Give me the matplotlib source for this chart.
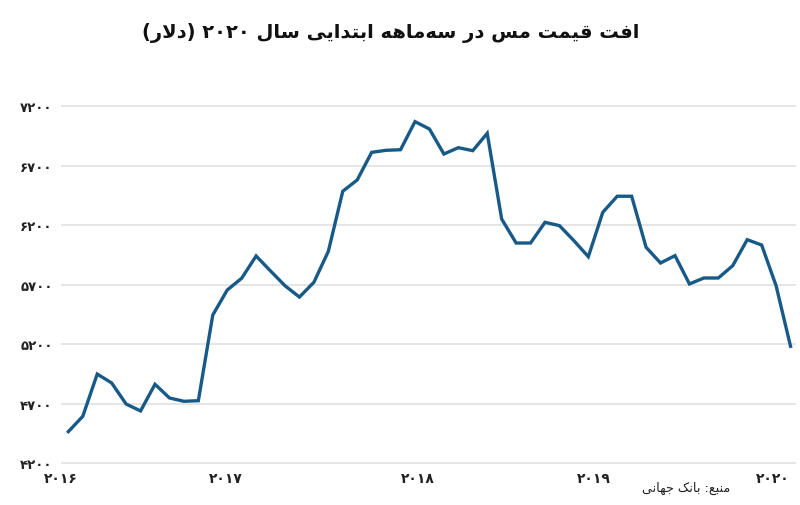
import matplotlib
matplotlib.use("Agg")
import matplotlib.pyplot as plt
import numpy as np

# ---------------- data ----------------
prices = [4466, 4595, 4950, 4875, 4698, 4640, 4864, 4749, 4721, 4726,
          5446, 5656, 5755, 5942, 5816, 5692, 5597, 5721, 5981, 6486,
          6581, 6813, 6830, 6835, 7071, 7009, 6799, 6852, 6827, 6973,
          6253, 6051, 6051, 6225, 6197, 6071, 5936, 6309, 6444, 6444,
          6015, 5883, 5945, 5707, 5757, 5757, 5861, 6079, 6034, 5692,
          5183]
year_labels = ["2016", "2017", "2018", "2019", "2020"]
year_pos = [-0.5, 10.9, 24.2, 36.4, 48.8]
y_ticks = [4200, 4700, 5200, 5700, 6200, 6700, 7200]
title_text = "افت قیمت مس در سه\u200cماهه ابتدایی سال ۲۰۲۰ (دلار)"
source_text = "منبع: بانک جهانی"

# ---------------- minimal Persian shaping ----------------
FORMS = {
    'ا': ('\uFE8D', '\uFE8E', None, None),
    'ب': ('\uFE8F', '\uFE90', '\uFE91', '\uFE92'),
    'ت': ('\uFE95', '\uFE96', '\uFE97', '\uFE98'),
    'ج': ('\uFE9D', '\uFE9E', '\uFE9F', '\uFEA0'),
    'د': ('\uFEA9', '\uFEAA', None, None),
    'ر': ('\uFEAD', '\uFEAE', None, None),
    'س': ('\uFEB1', '\uFEB2', '\uFEB3', '\uFEB4'),
    'ع': ('\uFEC9', '\uFECA', '\uFECB', '\uFECC'),
    'ف': ('\uFED1', '\uFED2', '\uFED3', '\uFED4'),
    'ق': ('\uFED5', '\uFED6', '\uFED7', '\uFED8'),
    'ل': ('\uFEDD', '\uFEDE', '\uFEDF', '\uFEE0'),
    'م': ('\uFEE1', '\uFEE2', '\uFEE3', '\uFEE4'),
    'ن': ('\uFEE5', '\uFEE6', '\uFEE7', '\uFEE8'),
    'ه': ('\uFEE9', '\uFEEA', '\uFEEB', '\uFEEC'),
    'ی': ('\uFBFC', '\uFBFD', '\uFBFE', '\uFBFF'),
    'ک': ('\uFB8E', '\uFB8F', '\uFB90', '\uFB91'),
    'LA': ('\uFEFB', '\uFEFC', None, None),
}


def shape(text):
    units = []
    i = 0
    while i < len(text):
        if text[i] == 'ل' and i + 1 < len(text) and text[i + 1] == 'ا':
            units.append('LA')
            i += 2
        else:
            units.append(text[i])
            i += 1
    out = []
    for k, u in enumerate(units):
        if u not in FORMS:
            out.append(u if u != '\u200c' else '')
            continue
        f = FORMS[u]
        prev = units[k - 1] if k > 0 else None
        nxt = units[k + 1] if k + 1 < len(units) else None
        jp = prev in FORMS and FORMS[prev][2] is not None
        jn = f[2] is not None and nxt in FORMS
        if jp and jn:
            out.append(f[3])
        elif jp:
            out.append(f[1])
        elif jn:
            out.append(f[2])
        else:
            out.append(f[0])
    return ''.join(out)


def rtl(text):
    s = shape(text)
    runs = []
    for c in s:
        if runs and c.isdigit() and runs[-1][-1].isdigit():
            runs[-1] += c
        else:
            runs.append(c)
    mirror = {'(': ')', ')': '('}
    runs = [mirror.get(r, r) for r in runs[::-1]]
    return ''.join(runs)


def fa_digits(s):
    return s.translate(str.maketrans('0123456789', '۰۱۲۳۴۵۶۷۸۹'))


# ---------------- plot ----------------
plt.rcParams['font.family'] = ['DejaVu Sans']
fig = plt.figure(figsize=(8, 5.06), dpi=100)
ax = fig.add_axes([0.0764, 0.0777, 0.919, 0.715])

x = np.arange(len(prices))
ax.plot(x, prices, color='#175a87', lw=2.4, solid_joinstyle='miter', zorder=3)

ax.set_xlim(-0.2, 50.4)
ax.set_ylim(4180, 7220)
ax.set_yticks(y_ticks)
ax.set_yticklabels([fa_digits(str(v)) for v in y_ticks], fontsize=9.5,
                   fontweight='bold', color='#222222')
ax.set_xticks(year_pos)
ax.set_xticklabels([fa_digits(s) for s in year_labels], fontsize=10,
                   fontweight='bold', color='#222222')
ax.tick_params(axis='both', length=0)
ax.tick_params(axis='y', pad=6)
ax.tick_params(axis='x', pad=4)
for s in ax.spines.values():
    s.set_visible(False)
ax.grid(axis='y', color='#e3e3e3', lw=1.3)
ax.set_axisbelow(True)

fig.text(0.488, 0.934, rtl(title_text), ha='center', va='center',
         fontsize=14, fontweight='bold', color='#111111')

fig.text(0.803, 0.034, rtl(source_text), ha='left', va='center',
         fontsize=9.2, color='#222222')

fig.savefig('out.png', dpi=100)
